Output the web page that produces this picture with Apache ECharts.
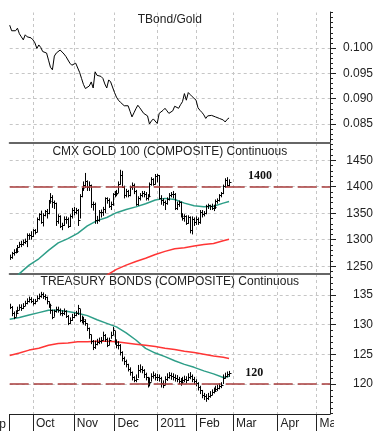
<!DOCTYPE html>
<html><head><meta charset="utf-8">
<script src="https://cdn.jsdelivr.net/npm/echarts@6/dist/echarts.min.js"></script>
<style>html,body{margin:0;padding:0;background:#fff}#c{width:381px;height:431px}</style>
</head><body><div id="c"></div>
<script>
// ---------- calendar ----------
const firstDay = '2010-09-15';
const holidays = ['2010-11-25','2010-12-24','2011-01-17','2011-02-21','2011-04-22'];
const totalDays = 166;
const monthNames = ['Jan','Feb','Mar','Apr','May','Jun','Jul','Aug','Sep','Oct','Nov','Dec'];

// ---------- tick labels ----------
const ratioTicks = [0.085, 0.090, 0.095, 0.100];
const goldTicks  = [1250, 1300, 1350, 1400, 1450];
const bondTicks  = [120, 125, 130, 135];

// ---------- TBond/Gold ratio (daily) ----------
const ratio = [0.1045,0.1034,0.1032,0.1034,0.1039,0.1028,0.1022,0.1016,0.1026,0.1022,
0.1019,0.1020,0.1016,0.1010,0.0999,0.1006,0.1001,0.0993,0.0995,0.0990,
0.0976,0.0962,0.0957,0.0984,0.0990,0.0988,0.0996,0.0992,0.0988,0.0983,
0.0980,0.0970,0.0966,0.0966,0.0970,0.0973,0.0952,0.0940,0.0928,0.0920,
0.0917,0.0925,0.0933,0.0921,0.0953,0.0946,0.0943,0.0944,0.0940,0.0929,
0.0921,0.0937,0.0933,0.0930,0.0912,0.0903,0.0897,0.0893,0.0891,0.0886,
0.0885,0.0886,0.0875,0.0864,0.0872,0.0880,0.0887,0.0882,0.0880,0.0871,
0.0872,0.0866,0.0850,0.0856,0.0860,0.0861,0.0851,0.0871,0.0874,0.0877,
0.0881,0.0876,0.0871,0.0874,0.0876,0.0885,0.0884,0.0881,0.0888,0.0894,
0.0910,0.0897,0.0912,0.0908,0.0904,0.0901,0.0897,0.0882,0.0877,0.0873,
0.0868,0.0861,0.0866,0.0868,0.0867,0.0866,0.0864,0.0863,0.0861,0.0860,
0.0858,0.0854,0.0859,0.0862];

// ---------- Gold (daily high / low / close) ----------
const goldHigh = [1272,1277,1282,1284,1290,1296,1298,1300,1302,1312,
1312,1316,1320,1320,1342,1350,1355,1350,1356,1358,
1375,1388,1384,1374,1370,1348,1346,1332,1344,1344,
1342,1348,1360,1362,1360,1358,1386,1398,1410,1426,
1412,1410,1404,1372,1370,1345,1356,1357,1362,1380,
1380,1378,1372,1388,1392,1394,1410,1432,1430,1402,
1396,1394,1402,1408,1406,1394,1382,1388,1392,1392,
1390,1386,1408,1418,1416,1424,1424,1422,1384,1378,
1374,1380,1388,1390,1392,1388,1372,1374,1372,1350,
1348,1346,1346,1344,1344,1342,1344,1342,1356,1356,
1354,1366,1368,1366,1368,1366,1376,1378,1386,1390,
1404,1416,1418,1414];
const goldLow = [1262,1264,1270,1274,1275,1285,1286,1289,1292,1286,
1300,1300,1305,1310,1314,1336,1330,1325,1344,1340,
1348,1368,1360,1358,1326,1330,1322,1318,1326,1330,
1322,1324,1340,1346,1348,1326,1340,1380,1392,1398,
1392,1392,1360,1355,1330,1330,1334,1342,1345,1350,
1368,1360,1356,1364,1380,1382,1388,1404,1398,1378,
1380,1380,1382,1394,1386,1364,1364,1374,1380,1380,
1374,1374,1380,1402,1402,1404,1408,1376,1366,1364,
1356,1366,1374,1380,1378,1356,1356,1362,1342,1336,
1334,1328,1330,1312,1310,1326,1328,1328,1330,1342,
1344,1348,1358,1356,1356,1354,1358,1368,1372,1380,
1386,1398,1400,1400];
const goldClose = [1268,1274,1276,1279,1287,1292,1292,1296,1297,1309,
1308,1307,1318,1315,1340,1348,1333,1346,1354,1350,
1373,1381,1372,1369,1336,1345,1325,1328,1339,1340,
1325,1344,1357,1352,1356,1337,1383,1397,1403,1410,
1399,1403,1367,1368,1338,1337,1352,1352,1358,1378,
1374,1363,1367,1386,1387,1389,1406,1423,1400,1384,
1392,1385,1399,1403,1392,1368,1379,1384,1389,1387,
1378,1382,1406,1414,1405,1421,1422,1378,1374,1371,
1369,1376,1384,1386,1387,1360,1368,1371,1345,1341,
1344,1332,1342,1318,1340,1333,1340,1333,1353,1348,
1350,1364,1365,1363,1360,1361,1373,1375,1384,1388,
1401,1413,1403,1409];

// ---------- Treasury bonds (daily high / low / close) ----------
const bondHigh = [133.5,133.1,132.2,132.4,133.0,133.4,133.4,133.6,134.0,134.4,
134.7,134.6,134.3,134.3,134.9,135.2,135.5,135.4,135.1,134.7,
133.9,133.5,132.5,132.5,133.0,133.0,132.7,132.4,132.7,132.4,
131.6,131.2,131.8,132.0,132.3,133.3,132.6,131.5,131.3,130.9,
130.2,129.5,128.3,127.4,127.3,127.6,127.8,127.9,128.8,128.4,
127.8,127.8,128.8,129.6,128.9,127.5,127.2,126.7,125.5,124.6,
124.1,123.4,122.8,122.1,121.3,121.6,123.2,123.3,123.0,122.5,
121.9,121.2,121.1,121.8,122.1,121.8,121.7,121.6,121.2,120.6,
121.3,121.8,122.0,121.9,121.8,121.6,121.5,121.2,121.0,121.2,
121.4,121.3,121.8,122.0,121.6,121.2,120.8,120.3,119.7,119.0,
118.5,118.3,118.5,118.8,119.1,119.4,119.7,119.9,120.1,120.3,
121.6,121.9,122.1,122.2];
const bondLow = [132.6,131.4,130.9,131.3,132.0,132.4,132.3,132.6,133.1,133.4,
133.7,133.6,133.2,133.4,133.9,134.2,134.5,134.3,134.1,133.4,
132.8,131.8,130.9,131.3,132.0,132.0,131.5,131.4,131.6,131.1,
129.9,130.1,130.6,131.1,131.4,131.6,130.4,130.2,130.0,129.8,
128.9,127.6,126.7,125.7,125.9,126.5,126.7,126.8,127.3,127.1,
126.2,126.5,127.6,128.2,126.6,126.0,125.8,124.8,123.8,123.2,
122.8,122.1,121.4,120.6,120.3,120.3,121.0,121.9,121.8,121.0,
120.6,119.4,119.6,120.4,120.9,120.6,120.5,120.4,119.4,119.3,
119.8,120.5,120.9,120.7,120.6,120.4,120.3,120.0,119.7,120.0,
120.3,120.1,120.5,120.8,120.3,119.9,119.6,118.9,118.3,117.6,
117.3,117.0,117.3,117.7,118.1,118.4,118.7,118.8,119.1,119.3,
120.0,120.9,121.1,121.2];
const bondClose = [133.0,132.0,131.3,132.0,132.5,133.0,132.8,133.2,133.6,133.9,
134.3,134.0,133.6,134.0,134.5,134.8,135.2,134.8,134.6,133.9,
133.3,132.4,131.3,132.2,132.6,132.5,132.0,131.9,132.2,131.5,
130.2,130.8,131.3,131.6,131.9,132.8,130.8,131.0,130.6,130.2,
129.4,128.4,127.2,126.3,126.8,127.1,127.3,127.4,128.3,127.6,
126.6,127.4,128.3,129.1,127.0,126.6,126.6,125.3,124.3,123.8,
123.3,122.6,122.0,121.2,120.6,120.9,122.4,122.6,122.4,121.6,
121.2,120.2,120.4,121.3,121.5,121.2,121.1,121.0,120.2,119.9,
120.8,121.2,121.5,121.3,121.2,121.0,120.9,120.5,120.3,120.7,
120.9,120.7,121.2,121.4,120.9,120.5,120.2,119.5,119.0,118.2,
117.9,117.6,117.9,118.2,118.6,118.9,119.2,119.3,119.6,119.8,
121.0,121.4,121.6,121.8];

// ---------- moving averages (read at these trading-day numbers) ----------
const maSampleDays = [0,5,10,15,20,25,30,35,40,45,50,55,60,65,70,75,80,85,90,95,100,105,110,113];
const gold50  = [1215,1236,1252,1264,1280,1294,1302,1312,1326,1336,1342,1351,1357,1362,1368,1375,1378,1376,1369,1364,1362,1363,1369,1372];
const gold200 = [null,null,null,null,null,null,null,null,null,null,1233,1244,1252,1259,1265,1272,1278,1283,1285,1288,1291,1293,1298,1301];
const bond50  = [130.9,131.2,131.6,132.0,132.4,132.4,132.2,131.9,131.5,130.8,130.2,129.6,128.6,127.4,126.0,125.2,124.6,123.9,123.3,122.8,122.2,121.7,121.1,121.3];
const bond200 = [124.8,125.2,125.7,126.0,126.5,126.8,126.9,127.1,127.1,127.2,127.2,127.1,126.9,126.7,126.5,126.3,126.0,125.8,125.5,125.3,125.0,124.7,124.5,124.3];

const goldLevel = 1400;
const bondLevel = 120;
const titles = ['TBond/Gold','CMX GOLD 100 (COMPOSITE) Continuous','TREASURY BONDS (COMPOSITE) Continuous'];

// ---------- build ----------
function pad(n){return n<10?'0'+n:''+n;}
const days = [];
(function(){
  const p = firstDay.split('-').map(Number);
  const d = new Date(Date.UTC(p[0], p[1]-1, p[2]));
  while (days.length < totalDays) {
    const s = d.getUTCFullYear()+'-'+pad(d.getUTCMonth()+1)+'-'+pad(d.getUTCDate());
    const w = d.getUTCDay();
    if (w !== 0 && w !== 6 && holidays.indexOf(s) < 0) days.push(s);
    d.setUTCDate(d.getUTCDate()+1);
  }
})();
function isMonthStart(i){ return i > 0 && days[i].slice(5,7) !== days[i-1].slice(5,7); }
function fmtMonth(v){ const m = +v.slice(5,7); return m === 1 ? v.slice(0,4) : monthNames[m-1]; }
function minorSteps(min, max, step){
  const out = [];
  for (let k = Math.ceil(min/step - 1e-9); k*step <= max + 1e-12; k++) out.push(+(k*step).toFixed(6));
  return out;
}

const FONT = '"Liberation Sans", Arial, sans-serif';
const GRID_COLOR = '#c6c6c6';
const RANGES = [[0.08125,0.1071],[1235.3,1482.5],[114.95,138.5]];

function xAxisFor(gi, bottom){
  return {
    type:'category', gridIndex:gi, data:days, boundaryGap:false,
    axisLine:{show:true, onZero:false, lineStyle: bottom ? {color:'#222', width:1} : {color:'#666', width:2}},
    axisTick:{show:bottom, interval:(i)=> i===0 || isMonthStart(i), length:17, lineStyle:{color:'#222'}},
    axisLabel:{show:bottom, interval:(i)=>isMonthStart(i), formatter:fmtMonth, align:'left',
      padding:[0,0,0,3], margin:4, color:'#222', fontSize:12, fontFamily:FONT},
    splitLine:{show:true, interval:(i)=>isMonthStart(i), lineStyle:{color:GRID_COLOR, type:[3,3], width:1}}
  };
}
function yAxisFor(gi, ticks, dec){
  return {
    type:'value', gridIndex:gi, position:'right', min:RANGES[gi][0], max:RANGES[gi][1],
    axisLine:{show:true, lineStyle:{color:'#222'}},
    axisTick:{show:true, length:6, customValues:ticks, lineStyle:{color:'#222'}},
    axisLabel:{customValues:ticks, align:'right', margin:43, color:'#222',
      fontSize:12, fontFamily:FONT, formatter:(v)=>(+v).toFixed(dec)},
    splitLine:{show:true, lineStyle:{color:GRID_COLOR, type:[3,3], width:1}}
  };
}
function minorAxisFor(gi, step){
  return {
    type:'value', gridIndex:gi, position:'right', min:RANGES[gi][0], max:RANGES[gi][1],
    axisLine:{show:false},
    axisTick:{show:true, length:3, customValues:minorSteps(RANGES[gi][0], RANGES[gi][1], step), lineStyle:{color:'#222'}},
    axisLabel:{show:false}, splitLine:{show:false}
  };
}
function renderHLC(params, api){
  const i = api.value(0);
  const hi = api.coord([i, api.value(1)]);
  const lo = api.coord([i, api.value(2)]);
  const cl = api.coord([i, api.value(3)]);
  const x = Math.round(hi[0]) + 0.5;
  return {type:'group', children:[
    {type:'line', shape:{x1:x, y1:hi[1], x2:x, y2:lo[1]}, style:{stroke:'#000', lineWidth:1}},
    {type:'line', shape:{x1:x, y1:Math.round(cl[1])+0.5, x2:x+2, y2:Math.round(cl[1])+0.5}, style:{stroke:'#000', lineWidth:1}}
  ]};
}
function maPairs(arr){
  return maSampleDays.map((d,k)=>[d, arr[k]]).filter(p=>p[1]!=null);
}
function levelLine(v){
  return {silent:true, symbol:'none', label:{show:false},
    lineStyle:{color:'#a83c3c', type:[19,5], width:1.5}, data:[{yAxis:v}]};
}
function levelLabel(v, dayIdx){
  return {symbol:'circle', symbolSize:1, itemStyle:{color:'rgba(0,0,0,0)'}, silent:true,
    data:[{coord:[days[dayIdx], v], label:{show:true, formatter:String(v), offset:[0,-11],
      fontFamily:'"Liberation Serif", "Times New Roman", serif', fontWeight:'bold', fontSize:12, color:'#111'}}]};
}

const option = {
  animation:false,
  backgroundColor:'#fff',
  grid:[
    {left:9.7, right:51, top:12, height:131},
    {left:9.7, right:51, top:143, height:131},
    {left:9.7, right:51, top:274, height:140}
  ],
  xAxis:[xAxisFor(0,false), xAxisFor(1,false), xAxisFor(2,true)],
  yAxis:[yAxisFor(0,ratioTicks,3), yAxisFor(1,goldTicks,0), yAxisFor(2,bondTicks,0),
         minorAxisFor(0,0.001), minorAxisFor(1,10), minorAxisFor(2,1)],
  series:[
    {type:'line', xAxisIndex:0, yAxisIndex:0, data:ratio.map((v,i)=>[i,v]), showSymbol:false,
      lineStyle:{color:'#000', width:1}, z:3},
    {type:'line', xAxisIndex:1, yAxisIndex:1, data:maPairs(gold50), showSymbol:false,
      lineStyle:{color:'#2e9e88', width:1.5}, markLine:levelLine(goldLevel), markPoint:levelLabel(goldLevel,129)},
    {type:'line', xAxisIndex:1, yAxisIndex:1, data:maPairs(gold200), showSymbol:false,
      lineStyle:{color:'#ff3535', width:1.5}},
    {type:'custom', xAxisIndex:1, yAxisIndex:1, renderItem:renderHLC,
      data:goldClose.map((c,i)=>[i, goldHigh[i], goldLow[i], c]), encode:{x:0, y:[1,2,3]}, z:4},
    {type:'line', xAxisIndex:2, yAxisIndex:2, data:maPairs(bond50), showSymbol:false,
      lineStyle:{color:'#2e9e88', width:1.5}, markLine:levelLine(bondLevel), markPoint:levelLabel(bondLevel,126)},
    {type:'line', xAxisIndex:2, yAxisIndex:2, data:maPairs(bond200), showSymbol:false,
      lineStyle:{color:'#ff3535', width:1.5}},
    {type:'custom', xAxisIndex:2, yAxisIndex:2, renderItem:renderHLC,
      data:bondClose.map((c,i)=>[i, bondHigh[i], bondLow[i], c]), encode:{x:0, y:[1,2,3]}, z:4}
  ],
  graphic:[
    {type:'rect', shape:{x:9, y:11, width:321, height:1.6}, style:{fill:'#fff'}, z:100, silent:true},
    {type:'rect', shape:{x:334, y:415, width:47, height:16}, style:{fill:'#fff'}, z:100, silent:true},
    {type:'text', x:6, y:425, style:{text:'Sep', align:'right', verticalAlign:'middle', fontSize:12, fontFamily:FONT, fill:'#222'}, z:50},
    {type:'text', x:169.8, y:20, style:{text:titles[0], align:'center', verticalAlign:'middle', fontSize:12, fontFamily:FONT, fill:'#222'}, z:50},
    {type:'text', x:169.8, y:151.5, style:{text:titles[1], align:'center', verticalAlign:'middle', fontSize:12, fontFamily:FONT, fill:'#222'}, z:50},
    {type:'text', x:169.8, y:282, style:{text:titles[2], align:'center', verticalAlign:'middle', fontSize:12, fontFamily:FONT, fill:'#222'}, z:50}
  ]
};
const chart = echarts.init(document.getElementById('c'), null, {renderer:'canvas'});
chart.setOption(option);
</script></body></html>
